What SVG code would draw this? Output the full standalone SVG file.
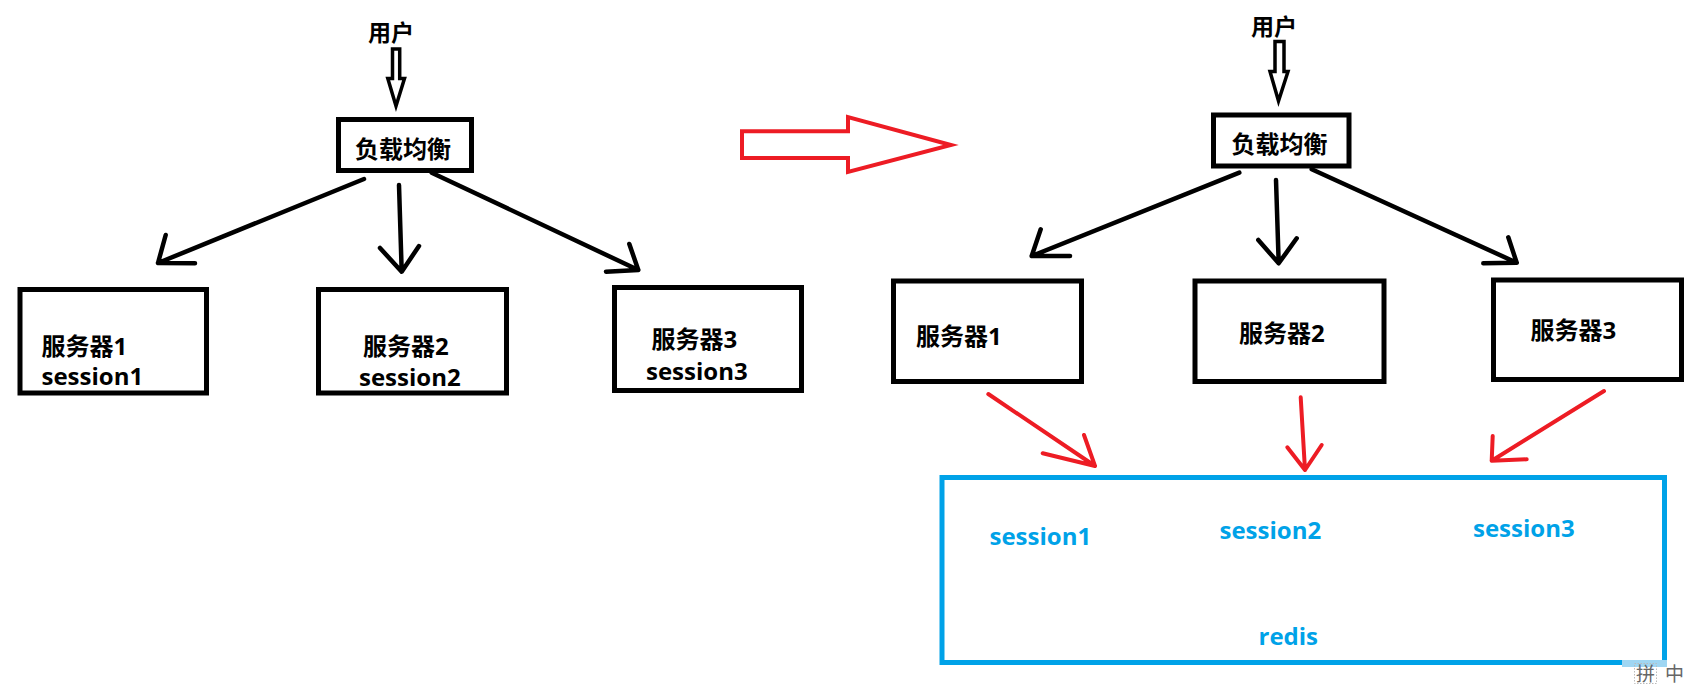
<svg xmlns="http://www.w3.org/2000/svg" width="1703" height="685" viewBox="0 0 1703 685">
<style>
.box{fill:none;stroke:#000;stroke-width:5}
.t{font-family:"Open Sans","Noto Sans CJK SC",sans-serif;font-weight:bold;font-size:24px;fill:#000}
.u{font-size:23px}
.b{fill:#00A2E8}
.k{fill:none;stroke:#000;stroke-width:4.5;stroke-linecap:round;stroke-linejoin:round}
.r{fill:none;stroke:#ED1C24;stroke-width:4;stroke-linecap:round;stroke-linejoin:round}
.h{fill:none;stroke:#000;stroke-width:3.5;stroke-linejoin:miter}
.ime{font-family:"Noto Sans CJK SC",sans-serif;font-size:19px;fill:#666}
</style>
<rect width="1703" height="685" fill="#fff"/>

<!-- Left diagram -->
<g id="user-left"><text class="t u" x="368" y="41">用户</text></g>
<g id="lb-left"><rect class="box" x="338.5" y="119.5" width="133" height="51"/><text class="t" x="355" y="158">负载均衡</text></g>
<g id="srv1-left"><rect class="box" x="20" y="289.5" width="186.5" height="103.5"/><text class="t" x="41.5" y="355">服务器1</text><text class="t" x="41.5" y="385">session1</text></g>
<g id="srv2-left"><rect class="box" x="318.5" y="289.5" width="188" height="103.5"/><text class="t" x="363" y="355">服务器2</text><text class="t" x="359" y="386">session2</text></g>
<g id="srv3-left"><rect class="box" x="614.5" y="287.5" width="187" height="103"/><text class="t" x="651.5" y="348">服务器3</text><text class="t" x="646" y="380">session3</text></g>

<!-- Big red transition arrow -->
<g id="transition"><polygon points="742,131.3 848,131.3 848,117 951,145 848,172 848,158 742,158" fill="none" stroke="#ED1C24" stroke-width="4" stroke-linejoin="miter"/></g>

<!-- Right diagram -->
<g id="user-right"><text class="t u" x="1251" y="35">用户</text></g>
<g id="lb-right"><rect class="box" x="1213.5" y="115" width="135.5" height="51"/><text class="t" x="1231.5" y="153">负载均衡</text></g>
<g id="srv1-right"><rect class="box" x="893.5" y="281" width="188" height="100.5"/><text class="t" x="916" y="344.5">服务器1</text></g>
<g id="srv2-right"><rect class="box" x="1195" y="281" width="189" height="100.5"/><text class="t" x="1239" y="342">服务器2</text></g>
<g id="srv3-right"><rect class="box" x="1493.5" y="280" width="188" height="99.5"/><text class="t" x="1530.5" y="338.5">服务器3</text></g>
<g id="redis"><rect x="942" y="477.5" width="722.5" height="185" fill="none" stroke="#00A2E8" stroke-width="5"/>
<text class="t b" x="989.5" y="545">session1</text>
<text class="t b" x="1219.5" y="538.5">session2</text>
<text class="t b" x="1473" y="536.5">session3</text>
<text class="t b" x="1258.5" y="645">redis</text></g>

<g id="connectors">
<!-- left hollow arrow -->
<polygon class="h" points="392.5,49 399.7,49 399.7,78.5 404.5,78.5 396,106 387.8,78.5 392.5,78.5"/>
<!-- left black arrows -->
<path class="k" d="M364,179 L158,263 M165.7,235 L158,263 L195,263.3"/>
<path class="k" d="M399,185 L401.7,271.7 M380,248 L401.7,271.7 L419,246"/>
<path class="k" d="M431.7,172.7 L638.3,270 M629.3,244 L638.3,270 L606,271.7"/>
<!-- right hollow arrow -->
<polygon class="h" points="1275,41.5 1284,41.5 1284,71.5 1288,71.5 1278.5,101 1270,71.5 1275,71.5"/>
<!-- right black arrows -->
<path class="k" d="M1239.3,172.7 L1031.7,256 M1040.7,229.3 L1031.7,256 L1070,256"/>
<path class="k" d="M1276,180 L1278.7,263.3 M1258.3,240 L1278.7,263.3 L1296.7,238.3"/>
<path class="k" d="M1311.7,169.3 L1516.7,262.7 M1508.3,237.3 L1516.7,262.7 L1483.3,263.3"/>
<!-- red arrows to redis -->
<path class="r" d="M988.3,394 L1095,466 M1084,435 L1095,466 L1042.7,453.3"/>
<path class="r" d="M1300.7,397.3 L1305,470 M1287.3,447.3 L1305,470 L1321.7,445"/>
<path class="r" d="M1604,391 L1491.7,460.7 M1492.7,436 L1491.7,460.7 L1526.7,459.3"/>
</g>

<!-- IME indicator -->
<g id="ime">
<rect x="1622" y="660" width="45" height="7" fill="#9fd6f2"/>
<rect x="1634.5" y="663.5" width="22" height="20" fill="none" stroke="#bbb" stroke-dasharray="1.5,1.5"/>
<text class="ime" x="1636" y="681">拼</text>
<text class="ime" x="1665" y="681">中</text>
</g>
</svg>
